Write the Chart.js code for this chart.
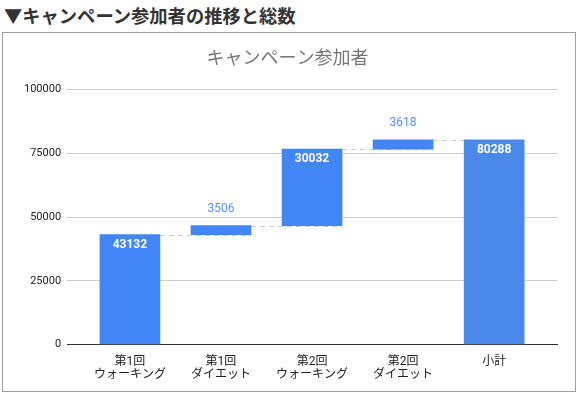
<!DOCTYPE html>
<html>
<head>
<meta charset="utf-8">
<script src="https://cdn.jsdelivr.net/npm/chart.js@4/dist/chart.umd.min.js"></script>
<style>
  body { margin: 0; background: #fff; width: 578px; height: 394px; overflow: hidden; }
  #head {
    position: absolute; left: 4px; top: 1px;
    font-family: "Noto Sans CJK JP", sans-serif; font-weight: bold;
    font-size: 18.3px; line-height: 28px; color: #333;
  }
  #box {
    position: absolute; left: 2px; top: 32px; width: 572px; height: 358px;
    border: 1px solid #9e9e9e;
  }
</style>
</head>
<body>
<div id="head">▼キャンペーン参加者の推移と総数</div>
<div id="box"><canvas id="waterfall"></canvas></div>
<script>
const categories = [["第1回", "ウォーキング"], ["第1回", "ダイエット"], ["第2回", "ウォーキング"], ["第2回", "ダイエット"], "小計"];
const changes = [43132, 3506, 30032, 3618];
const subtotal = 80288;
const yMax = 100000;
const yStep = 25000;

// floating bars: each step starts where the previous one ended
let run = 0;
const ranges = changes.map(v => { const r = [run, run + v]; run += v; return r; });
ranges.push([0, subtotal]);
const labels = changes.concat([subtotal]);
const colors = ["#4285f4", "#4285f4", "#4285f4", "#4285f4", "#4a89e8"];

Chart.defaults.font.family = 'Roboto, "Noto Sans CJK JP", sans-serif';
Chart.defaults.animation = false;

const connectors = {
  id: "connectors",
  beforeDatasetsDraw(chart) {
    const bars = chart.getDatasetMeta(0).data;
    const y = chart.scales.y;
    const ctx = chart.ctx;
    ctx.save();
    ctx.strokeStyle = "#cccccc";
    ctx.lineWidth = 1;
    ctx.setLineDash([5, 4]);
    for (let i = 0; i < bars.length - 1; i++) {
      const py = Math.round(y.getPixelForValue(ranges[i][1])) + 0.5;
      const x0 = bars[i].x + bars[i].width / 2;
      const x1 = bars[i + 1].x + (i + 1 < bars.length - 1 ? bars[i + 1].width / 2 : -bars[i + 1].width / 2);
      ctx.beginPath();
      ctx.moveTo(x0, py);
      ctx.lineTo(x1, py);
      ctx.stroke();
    }
    ctx.restore();
  }
};

const valueLabels = {
  id: "valueLabels",
  afterDatasetsDraw(chart) {
    const bars = chart.getDatasetMeta(0).data;
    const ctx = chart.ctx;
    ctx.save();
    ctx.textAlign = "center";
    ctx.textBaseline = "middle";
    bars.forEach((b, i) => {
      const top = Math.min(b.y, b.base);
      const h = Math.abs(b.base - b.y);
      if (h > 25) {
        ctx.fillStyle = "#ffffff";
        ctx.font = "bold 12px Roboto, sans-serif";
        ctx.fillText(labels[i], b.x, top + 10);
      } else {
        ctx.fillStyle = "#5a8ff2";
        ctx.font = "12px Roboto, sans-serif";
        ctx.fillText(labels[i], b.x, top - 17);
      }
    });
    ctx.restore();
  }
};

new Chart(document.getElementById("waterfall"), {
  type: "bar",
  data: {
    datasets: [{
      data: ranges.map((r, i) => ({ x: i, y: r })),
      backgroundColor: colors,
      borderWidth: 0,
      borderSkipped: false,
      barThickness: 60
    }]
  },
  options: {
    responsive: true,
    maintainAspectRatio: false,
    layout: { padding: { left: 15, right: 18, top: 0, bottom: 6 } },
    plugins: {
      legend: { display: false },
      tooltip: { enabled: false },
      title: {
        display: true,
        text: "キャンペーン参加者",
        color: "#757575",
        font: { size: 18, weight: "normal", family: 'Roboto, "Noto Sans CJK JP", sans-serif' },
        padding: { top: 16, bottom: 19 }
      }
    },
    scales: {
      x: {
        type: "linear",
        offset: false,
        min: -0.69,
        max: 4.69,
        grid: { display: false },
        border: { display: true, color: "#333333", width: 1 },
        afterBuildTicks: axis => { axis.ticks = categories.map((c, i) => ({ value: i })); },
        ticks: {
          autoSkip: false,
          maxRotation: 0,
          padding: 3,
          color: "#222222",
          font: { size: 12, lineHeight: 1.1 },
          callback: v => categories[v]
        }
      },
      y: {
        min: 0,
        max: yMax,
        border: { display: false },
        grid: { color: "#cccccc", drawTicks: false },
        ticks: {
          stepSize: yStep,
          padding: 6,
          color: "#222222",
          font: { size: 11 },
          callback: v => v
        }
      }
    }
  },
  plugins: [connectors, valueLabels]
});
</script>
</body>
</html>
